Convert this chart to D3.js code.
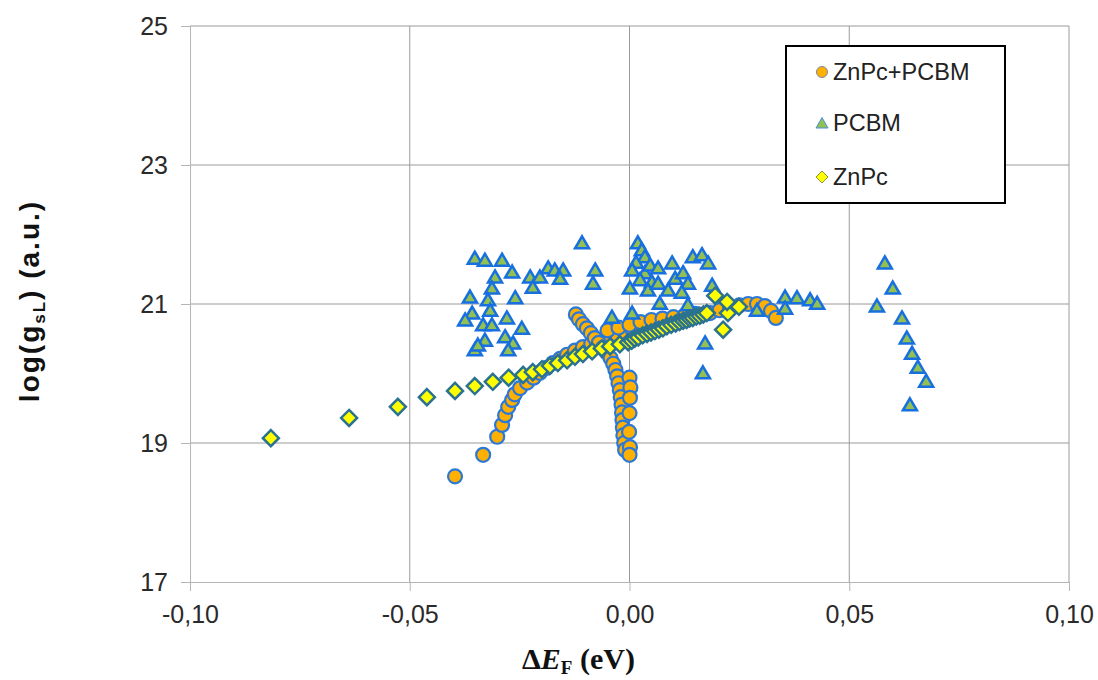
<!DOCTYPE html>
<html>
<head>
<meta charset="utf-8">
<script src="https://cdn.jsdelivr.net/npm/d3@7"></script>
<style>
body { margin: 0; background: #fff; }
</style>
</head>
<body>
<svg id="chart"></svg>
<script>

//Axis ticks and series names
var xTicks = [-0.10, -0.05, 0.00, 0.05, 0.10];
var yTicks = [17, 19, 21, 23, 25];
var seriesNames = ["ZnPc+PCBM", "PCBM", "ZnPc"];

//ZnPc+PCBM, [dEF, log(gsL)]
var blendPoints = [
    [-0.0397,18.52],[-0.0333,18.83],[-0.0301,19.09],[-0.0290,19.26],[-0.0283,19.40],[-0.0276,19.52],
    [-0.0267,19.62],[-0.0261,19.70],[-0.0249,19.79],[-0.0233,19.87],[-0.0218,19.94],[-0.0204,20.01],
    [-0.0189,20.08],[-0.0174,20.15],[-0.0158,20.21],[-0.0142,20.27],[-0.0124,20.33],[-0.0106,20.38],
    [-0.0087,20.43],[-0.0067,20.48],[-0.0048,20.52],[-0.0028,20.55],[-0.0010,20.59],[0.0008,20.62],
    [0.0030,20.65],[0.0053,20.68],[0.0075,20.71],[0.0095,20.74],[0.0115,20.77],[0.0138,20.80],
    [0.0160,20.83],[0.0183,20.87],[0.0205,20.91],[0.0229,20.95],[0.0250,20.98],[0.0270,21.00],
    [0.0290,21.00],[0.0308,20.97],[0.0322,20.90],[0.0333,20.80],
    [-0.0050,20.62],[-0.0025,20.66],[0.0000,20.70],[0.0025,20.74],[0.0050,20.77],[0.0075,20.79],
    [0.0100,20.81],[0.0125,20.83],[0.0150,20.86],
    [-0.0122,20.85],[-0.0115,20.78],[-0.0106,20.71],[-0.0097,20.65],[-0.0088,20.58],[-0.0079,20.51],
    [-0.0070,20.44],[-0.0060,20.37],[-0.0051,20.30],[-0.0043,20.22],[-0.0037,20.14],[-0.0032,20.05],
    [-0.0028,19.96],[-0.0025,19.86],[-0.0022,19.76],[-0.0020,19.66],[-0.0018,19.55],[-0.0017,19.44],
    [-0.0016,19.33],[-0.0015,19.22],[-0.0014,19.11],[-0.0012,19.00],[-0.0010,18.90],
    [0.0000,19.94],[0.0002,19.80],[0.0001,19.65],[0.0000,19.43],[-0.0001,19.16],[0.0001,18.94],[0.0000,18.83]
];

//PCBM
var pcbmPoints = [
    [-0.0352,21.66],[-0.0329,21.63],[-0.0290,21.63],[-0.0267,21.46],[-0.0306,21.39],[-0.0226,21.39],
    [-0.0204,21.39],[-0.0185,21.52],[-0.0170,21.49],[-0.0151,21.49],[-0.0158,21.37],[-0.0220,21.24],
    [-0.0313,21.23],[-0.0363,21.10],[-0.0260,21.09],[-0.0322,21.06],[-0.0358,20.87],[-0.0317,20.91],
    [-0.0374,20.77],[-0.0279,20.80],[-0.0333,20.70],[-0.0313,20.70],[-0.0245,20.65],[-0.0283,20.53],
    [-0.0329,20.48],[-0.0265,20.44],[-0.0352,20.34],[-0.0276,20.34],[-0.0345,20.41],
    [-0.0108,21.88],[-0.0078,21.49],[-0.0083,21.30],[-0.0040,20.81],
    [0.0019,21.88],[0.0028,21.78],[0.0035,21.68],[0.0015,21.60],[0.0006,21.49],[0.0035,21.45],
    [0.0024,21.35],[0.0001,21.23],[0.0047,21.56],[0.0051,21.32],[0.0042,21.20],[0.0065,21.52],
    [0.0065,21.30],[0.0069,21.01],[0.0097,21.59],[0.0104,21.37],[0.0122,21.45],[0.0088,21.20],
    [0.0144,21.68],[0.0165,21.71],[0.0179,21.59],[0.0133,21.30],[0.0119,21.17],[0.0188,21.27],
    [0.0133,20.99],[0.0006,20.87],[0.0172,20.44],[0.0167,20.01],
    [0.0290,20.91],[0.0354,21.10],[0.0381,21.09],[0.0411,21.06],[0.0427,21.01],[0.0354,20.94],
    [0.0581,21.59],[0.0599,21.23],[0.0563,20.97],[0.0620,20.80],[0.0631,20.51],[0.0643,20.29],
    [0.0656,20.09],[0.0675,19.89],[0.0638,19.55]
];

//ZnPc
var znpcPoints = [
    [-0.0816,19.07],[-0.0638,19.36],[-0.0527,19.52],[-0.0461,19.66],[-0.0397,19.75],[-0.0352,19.82],
    [-0.0311,19.88],[-0.0275,19.94],[-0.0242,19.98],[-0.0220,20.02],[-0.0199,20.06],[-0.0181,20.11],
    [-0.0163,20.15],[-0.0142,20.19],[-0.0124,20.24],[-0.0106,20.28],[-0.0085,20.32],[-0.0063,20.36],
    [-0.0044,20.39],[-0.0022,20.42],[-0.0003,20.45],[0.0005,20.47],[0.0012,20.50],[0.0020,20.52],
    [0.0030,20.55],[0.0040,20.57],[0.0049,20.59],[0.0058,20.61],[0.0067,20.63],[0.0076,20.65],
    [0.0085,20.68],[0.0095,20.70],[0.0105,20.72],[0.0114,20.74],[0.0122,20.76],[0.0130,20.77],
    [0.0137,20.79],[0.0144,20.80],[0.0152,20.82],[0.0160,20.83],[0.0168,20.85],[0.0176,20.87],
    [0.0213,20.63],[0.0224,20.87],[0.0249,20.96],[0.0222,21.03],[0.0195,21.12]
];


//Canvas and plot box
var width = 1098;
var height = 680;
var plotLeft = 190, plotRight = 1069, plotTop = 26, plotBottom = 582;
var tickLen = 9;

var svg = d3.select("#chart").attr("width", width).attr("height", height)
    .style("font-family", "'Liberation Sans', Arial, sans-serif");

var x = d3.scaleLinear().domain([-0.10, 0.10]).range([plotLeft, plotRight]);
var y = d3.scaleLinear().domain([17, 25]).range([plotBottom, plotTop]);

var commaFormat = function(d){ return d3.format(".2f")(d).replace(".", ",").replace("\u2212", "-"); };

//Gridlines
var grid = svg.append("g").attr("class", "grid");
grid.selectAll("line.h").data(yTicks.slice(1)).enter().append("line")
    .attr("x1", plotLeft).attr("x2", plotRight)
    .attr("y1", function(d){ return y(d); }).attr("y2", function(d){ return y(d); })
    .attr("stroke", "#9a9a9a").attr("stroke-width", 1);
grid.selectAll("line.v").data(xTicks.slice(1)).enter().append("line")
    .attr("y1", plotTop).attr("y2", plotBottom)
    .attr("x1", function(d){ return x(d); }).attr("x2", function(d){ return x(d); })
    .attr("stroke", "#9a9a9a").attr("stroke-width", 1);

//Axes
var xAxis = svg.append("g")
    .attr("transform", "translate(0," + plotBottom + ")")
    .call(d3.axisBottom(x).tickValues(xTicks).tickSize(tickLen).tickPadding(14).tickFormat(commaFormat));
var yAxis = svg.append("g")
    .attr("transform", "translate(" + plotLeft + ",0)")
    .call(d3.axisLeft(y).tickValues(yTicks).tickSize(tickLen).tickPadding(13).tickFormat(d3.format("d")));

[xAxis, yAxis].forEach(function(a){
    a.select(".domain").attr("stroke", "#b5b5b5").attr("d", a === xAxis
        ? "M" + plotLeft + ",0.5H" + plotRight
        : "M0.5," + plotTop + "V" + plotBottom);
    a.selectAll(".tick line").attr("stroke", "#b5b5b5");
    a.selectAll(".tick text").attr("fill", "#2a2a2a")
        .style("font-family", "'Liberation Sans', Arial, sans-serif")
        .style("font-size", "25px");
});

//Marker shapes
var circlePath = d3.symbol(d3.symbolCircle, Math.PI * 7 * 7)();
var trianglePath = "M0,-6.5L7,5.5L-7,5.5Z";
var diamondPath = "M0,-8L8,0L0,8L-8,0Z";

function drawSeries(points, path, fill, stroke, sw){
    svg.append("g").selectAll("path")
        .data(points)
        .enter()
        .append("path")
        .attr("d", path)
        .attr("transform", function(d){ return "translate(" + x(d[0]) + "," + y(d[1]) + ")"; })
        .attr("fill", fill)
        .attr("stroke", stroke)
        .attr("stroke-width", sw);
}

drawSeries(blendPoints, circlePath, "#ffb000", "#2b78d8", 2.2);
drawSeries(pcbmPoints, trianglePath, "#92c052", "#176fe0", 2.5);
drawSeries(znpcPoints, diamondPath, "#ffff00", "#2a7290", 2.5);

//Legend
var legend = svg.append("g");
legend.append("rect")
    .attr("x", 786).attr("y", 46).attr("width", 219).attr("height", 157)
    .attr("fill", "#fff").attr("stroke", "#000").attr("stroke-width", 2);

var legendShapes = [
    d3.symbol(d3.symbolCircle, Math.PI * 5.5 * 5.5)(),
    "M0,-5.5L6,5L-6,5Z",
    "M0,-6L6,0L0,6L-6,0Z"
];
var legendFill = ["#ffb000", "#92c052", "#ffff00"];
var legendStroke = ["#7a8aa0", "#4a90e0", "#8a9a30"];
var legendY = [72, 123, 177];

seriesNames.forEach(function(name, i){
    legend.append("path")
        .attr("d", legendShapes[i])
        .attr("transform", "translate(822," + legendY[i] + ")")
        .attr("fill", legendFill[i])
        .attr("stroke", legendStroke[i])
        .attr("stroke-width", 1);
    legend.append("text")
        .attr("x", 833).attr("y", legendY[i])
        .attr("dy", "0.36em")
        .attr("fill", "#222")
        .style("font-size", "23.5px")
        .text(name);
});

//Axis titles
var serif = "'Liberation Serif', 'Times New Roman', serif";
var xTitle = svg.append("text")
    .attr("x", 522).attr("y", 669)
    .attr("fill", "#111")
    .style("font-family", serif)
    .style("font-weight", "bold")
    .style("font-size", "30px");
xTitle.append("tspan").style("font-family", serif).text("\u0394");
xTitle.append("tspan").style("font-family", serif).style("font-style", "italic").text("E");
xTitle.append("tspan").style("font-family", serif).attr("dy", 5).style("font-size", "19px").text("F");
xTitle.append("tspan").style("font-family", serif).attr("dy", -5).text(" (eV)");

var yTitle = svg.append("text")
    .attr("transform", "translate(39,301) rotate(-90)")
    .attr("text-anchor", "middle")
    .attr("fill", "#111")
    .style("font-weight", "bold")
    .style("font-size", "28px")
    .style("letter-spacing", "2px");
yTitle.append("tspan").text("log(g");
yTitle.append("tspan").attr("dy", 6).style("font-size", "17px").text("sL");
yTitle.append("tspan").attr("dy", -6).text(") (a.u.)");

</script>
</body>
</html>
